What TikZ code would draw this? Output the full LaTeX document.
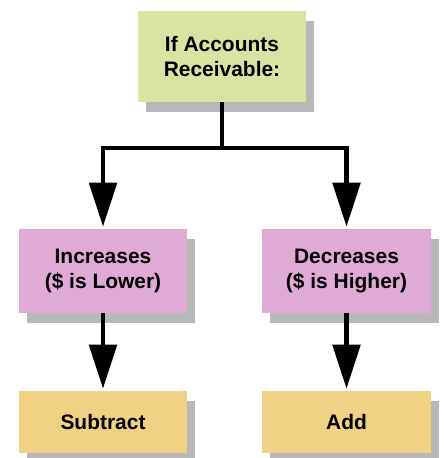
\documentclass[tikz,border=0pt]{standalone}
\usepackage{fontspec}
\setmainfont{Liberation Sans}
\usepackage{xcolor}
\usetikzlibrary{arrows.meta,shadows,positioning}
\definecolor{topgreen}{RGB}{217,227,162}
\definecolor{midpink}{RGB}{223,170,213}
\definecolor{lowyellow}{RGB}{240,210,132}

\begin{document}
\begin{tikzpicture}[x=0.025cm,y=-0.025cm,
box/.style={minimum width=4.2cm,inner sep=0pt,align=center,
 font=\bfseries\fontsize{14.9}{17.8}\selectfont,
 drop shadow={shadow xshift=0.2cm,shadow yshift=-0.25cm,fill=black!28,opacity=1}},
arr/.style={line width=0.12cm,shorten >=0.05cm,-{Triangle[length=1.1cm,width=0.68cm]}}]
\useasboundingbox (0,0) rectangle (445,458);
\node[box,fill=topgreen,minimum height=2.275cm](acct) at (222,56.5){If Accounts\\Receivable:};
\node[box,fill=midpink,minimum height=2.1cm](inc) at (103,271){Increases\\(\$ is Lower)};
\node[box,fill=midpink,minimum height=2.1cm](dec) at (346.5,271){Decreases\\(\$ is Higher)};
\node[box,fill=lowyellow,minimum height=1.55cm](sub) at (103,422){Subtract};
\node[box,fill=lowyellow,minimum height=1.55cm](add) at (346.5,422){Add};
\coordinate (split) at (222,148);
\draw[line width=0.12cm](acct.south)--(split);
\draw[arr](split)-|(inc.north);
\draw[arr](split)-|(dec.north);
\draw[arr](inc.south)--(sub.north);
\draw[arr](dec.south)--(add.north);
\end{tikzpicture}
\end{document}
